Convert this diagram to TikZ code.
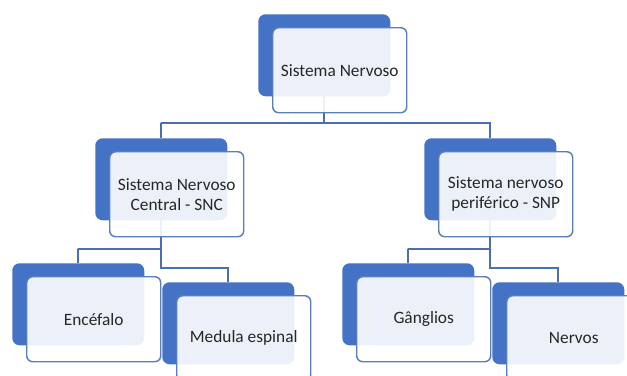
\documentclass[tikz,border=0pt]{standalone}
\usepackage{fontspec}
\setmainfont{Carlito}
\usetikzlibrary{backgrounds}
\definecolor{bluefill}{HTML}{4472C4}
\definecolor{boxline}{HTML}{5A7DBC}
\definecolor{connline}{HTML}{4A6EB0}
\definecolor{txt}{HTML}{262626}
\begin{document}
\begin{tikzpicture}[x=0.75pt,y=-0.75pt,
  bluebox/.style={draw=none,fill=bluefill,rounded corners=5.5pt,anchor=north west,
    minimum width=99pt,minimum height=61.5pt,inner sep=0pt},
  whitebox/.style={draw=boxline,line width=1.1pt,fill=white,fill opacity=0.9,text opacity=1,
    rounded corners=4.5pt,anchor=north west,minimum width=100.5pt,minimum height=63.75pt,
    inner sep=0pt,align=center,text=txt,font=\fontsize{13}{15}\selectfont},
  conn/.style={draw=connline,line width=1.5pt}]
\useasboundingbox (0,0) rectangle (627,375);
\clip (0,0) rectangle (627,375);
% blue back boxes
\node[bluebox] (topB) at (258,14) {};
\node[bluebox] (sncB) at (95,138) {};
\node[bluebox] (snpB) at (424,138) {};
\node[bluebox] (encB) at (12,263) {};
\node[bluebox] (medB) at (162,282) {};
\node[bluebox] (ganB) at (342,263) {};
\node[bluebox] (nerB) at (492,282) {};
% junction coordinates
\coordinate (j1) at (161,123);
\coordinate (j2) at (490,123);
\coordinate (j3) at (78,249);
\coordinate (j4) at (228,268);
\coordinate (j5) at (408,249);
\coordinate (j6) at (558,268);
% connectors, behind the boxes
\begin{scope}[on background layer]
\draw[conn] (topB.center) |- (j1) -| (sncB.north);
\draw[conn] (topB.center) |- (j2) -| (snpB.north);
\draw[conn] (sncB.center) |- (j3) -| (encB.north);
\draw[conn] (sncB.center) |- (j4) -| (medB.north);
\draw[conn] (snpB.center) |- (j5) -| (ganB.north);
\draw[conn] (snpB.center) |- (j6) -| (nerB.north);
\end{scope}
% front boxes
\node[whitebox] (top) at (272,27) {Sistema Nervoso};
\node[whitebox] (snc) at (109,151) {Sistema Nervoso\\Central - SNC};
\node[whitebox] (snp) at (438,151) {Sistema nervoso\\periférico - SNP};
\node[whitebox] (enc) at (26,276) {Encéfalo};
\node[whitebox] (med) at (176,295) {Medula espinal};
\node[whitebox] (gan) at (356,276) {Gânglios};
\node[whitebox] (ner) at (506,295) {Nervos};
\end{tikzpicture}
\end{document}
